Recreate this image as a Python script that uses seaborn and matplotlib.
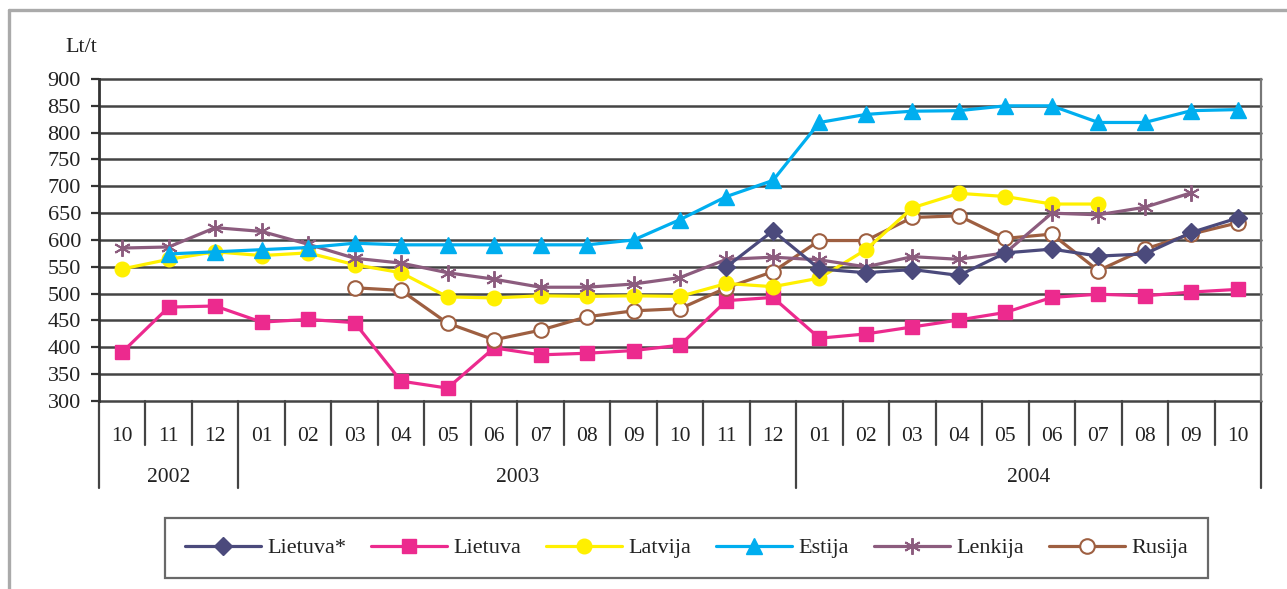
import numpy as np
import pandas as pd
import matplotlib
matplotlib.use("Agg")
import matplotlib.pyplot as plt
from matplotlib.lines import Line2D
import seaborn as sns

nan = np.nan
months = ['10', '11', '12', '01', '02', '03', '04', '05', '06', '07', '08', '09', '10',
          '11', '12', '01', '02', '03', '04', '05', '06', '07', '08', '09', '10']
years = ['2002', '2003', '2004']
year_spans = [(0, 2), (3, 14), (15, 24)]

lietuva_star = [nan] * 13 + [550, 617, 546, 539, 545, 534, 576, 583, 570, 574, 614, 641]
lietuva = [391, 475, 477, 447, 452, 446, 337, 324, 399, 386, 389, 394, 404, 487, 493,
           417, 425, 438, 451, 465, 493, 499, 496, 503, 508]
latvija = [546, 564, 578, 571, 576, 554, 539, 494, 492, 496, 495, 496, 495, 519, 513,
           529, 582, 660, 687, 681, 667, 667, nan, nan, nan]
estija = [nan, 574, 578, 582, 586, 594, 591, 591, 591, 591, 591, 600, 638, 681, 711,
          819, 834, 840, 841, 850, 850, 819, 819, 841, 843]
lenkija = [585, 587, 623, 616, 592, 566, 557, 539, 527, 512, 512, 518, 530, 564, 568,
           563, 550, 569, 564, 576, 650, 647, 661, 688, nan]
rusija = [nan] * 5 + [511, 506, 445, 414, 432, 457, 468, 472, 511, 541,
                      599, 599, 642, 645, 603, 611, 543, 583, 611, 632]

series_names = ['Lietuva*', 'Lietuva', 'Latvija', 'Estija', 'Lenkija', 'Rusija']
series_vals = [lietuva_star, lietuva, latvija, estija, lenkija, rusija]
yticks = [300, 350, 400, 450, 500, 550, 600, 650, 700, 750, 800, 850, 900]

sns.set_theme(style='white')
plt.rcParams['font.family'] = ['Liberation Serif', 'DejaVu Serif']

styles = {
    'Lietuva*': dict(color='#4b4a7c', marker='D', markersize=9, mfc='#4b4a7c', mec='#4b4a7c', mew=1),
    'Lietuva': dict(color='#ec2a8e', marker='s', markersize=10.5, mfc='#ec2a8e', mec='#ec2a8e', mew=1),
    'Latvija': dict(color='#fff000', marker='o', markersize=10.5, mfc='#fff000', mec='#fff000', mew=1),
    'Estija': dict(color='#00aeef', marker='^', markersize=11.5, mfc='#00aeef', mec='#00aeef', mew=1),
    'Lenkija': dict(color='#8c5c7e', marker=(6, 2, 0), markersize=12, mfc='#8c5c7e', mec='#8c5c7e', mew=1.4),
    'Rusija': dict(color='#9e5f41', marker='o', markersize=10.5, mfc='white', mec='#9e5f41', mew=1.5),
}

x = np.arange(len(months))
df = pd.DataFrame({'x': x})
for n, v in zip(series_names, series_vals):
    df[n] = v

fig = plt.figure(figsize=(12.87, 5.89), dpi=100)
fig.patch.set_facecolor('white')
ax = fig.add_axes([99 / 1287, 1 - 401 / 589, (1261 - 99) / 1287, (401 - 79) / 589])

order = ['Lietuva', 'Rusija', 'Latvija', 'Lenkija', 'Lietuva*', 'Estija']
for n in order:
    st = styles[n]
    sns.lineplot(data=df, x='x', y=n, ax=ax, color=st['color'], linewidth=2.3,
                 marker=st['marker'], markersize=st['markersize'],
                 markerfacecolor=st['mfc'], markeredgecolor=st['mec'],
                 markeredgewidth=st['mew'], errorbar=None, zorder=3, clip_on=False)

ax.set_xlim(-0.5, len(months) - 0.5)
ax.set_ylim(300, 900)
ax.set_yticks(yticks)
ax.set_yticklabels([str(t) for t in yticks], fontsize=16, color='#222222')
ax.set_xticks(x)
ax.set_xticklabels(months, fontsize=15.5, color='#222222')
ax.tick_params(axis='x', length=0, pad=19)
ax.tick_params(axis='y', length=6, width=1.6, color='#333333', pad=7, direction='out', left=True)
ax.set_xlabel('')
ax.set_ylabel('')
for t in yticks:
    ax.axhline(t, color='#444444', lw=1.8, zorder=1, clip_on=False)
for s in ['top', 'bottom']:
    ax.spines[s].set_visible(False)
ax.spines['left'].set_color('#333333')
ax.spines['left'].set_linewidth(2)
ax.spines['right'].set_color('#777777')
ax.spines['right'].set_linewidth(1.6)

# table below the plot
trans = ax.get_xaxis_transform()
h = 322.0
m_bot = -(445 - 401) / h
y_bot = -(488 - 401) / h
bounds = np.arange(-0.5, len(months), 1.0)
year_bounds = [-0.5] + [e + 0.5 for (_, e) in year_spans]
for b in bounds:
    bottom = y_bot if b in year_bounds else m_bot
    ax.plot([b, b], [0, bottom], transform=trans, color='#444444', lw=1.6, clip_on=False)
for yr, (s, e) in zip(years, year_spans):
    ax.text((s + e) / 2, -(477 - 401) / h, yr, transform=trans, ha='center', va='center',
            fontsize=15.5, color='#222222')

fig.text(81 / 1287, 1 - 47 / 589, 'Lt/t', ha='center', va='center', fontsize=16, color='#222222')

# legend
handles = []
for n in series_names:
    st = styles[n]
    handles.append(Line2D([], [], color=st['color'], lw=2.3, marker=st['marker'],
                          markersize=st['markersize'], markerfacecolor=st['mfc'],
                          markeredgecolor=st['mec'], markeredgewidth=st['mew']))
leg = fig.legend(handles, series_names, loc='center', ncol=6,
                 bbox_to_anchor=(165 / 1287, 1 - 578 / 589, (1208 - 165) / 1287, 60 / 589),
                 mode='expand', frameon=True, fancybox=False, edgecolor='#444444',
                 fontsize=16, handlelength=3.4, handletextpad=0.3, borderpad=0.9,
                 columnspacing=1.0, borderaxespad=0)
leg.get_frame().set_linewidth(1.6)
for t in leg.get_texts():
    t.set_color('#222222')

# figure border
fig.add_artist(Line2D([9 / 1287, 9 / 1287], [0, 1 - 10 / 589], color='#aaaaaa', lw=2.4))
fig.add_artist(Line2D([9 / 1287, 1], [1 - 10 / 589, 1 - 10 / 589], color='#aaaaaa', lw=2.4))

fig.savefig('out.png', dpi=100, facecolor='white')
